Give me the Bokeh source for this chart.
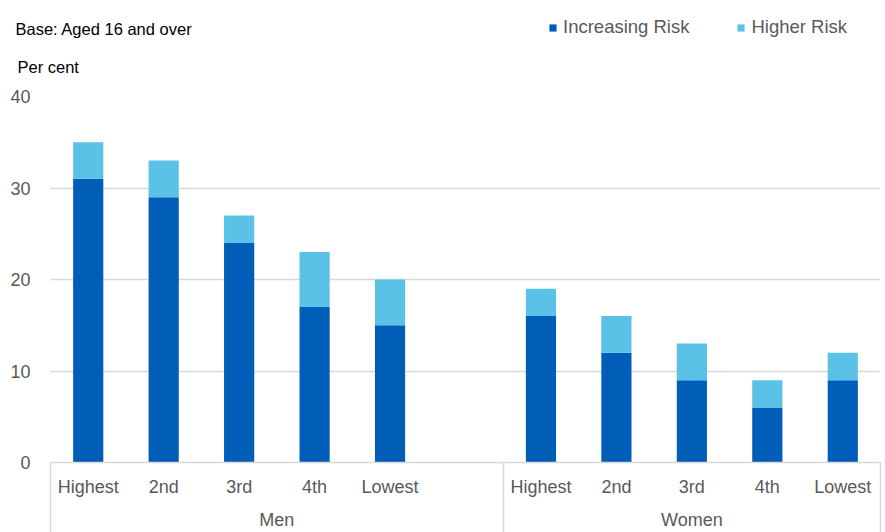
from bokeh.plotting import figure
from bokeh.layouts import column
from bokeh.models import (FixedTicker, LinearAxis, Range1d, ColumnDataSource,
                          Legend, LegendItem, Label)
from bokeh.embed import file_html
from bokeh.resources import INLINE

# ---- data ----
groups = ["Men", "Women"]
quintiles = ["Highest", "2nd", "3rd", "4th", "Lowest"]
men_increasing = [31, 29, 24, 17, 15]
men_higher = [4, 4, 3, 6, 5]
women_increasing = [16, 12, 9, 6, 9]
women_higher = [3, 4, 4, 3, 3]
series_names = ["Increasing Risk", "Higher Risk"]
y_ticks = [0, 10, 20, 30, 40]
base_text = "Base: Aged 16 and over"
unit_text = "Per cent"

DARK = "#005EB8"
LIGHT = "#5BC2E7"
GRID = "#d9d9d9"
TXT = "#595959"
FONT = "Liberation Sans"
colors = [DARK, LIGHT]

# positions: 6 slots per group (last one empty in first group)
slot = 6
xs, inc, hig, labels = [], [], [], {}
for g, (ivals, hvals) in enumerate([(men_increasing, men_higher),
                                     (women_increasing, women_higher)]):
    for i, q in enumerate(quintiles):
        x = g * slot + i
        xs.append(x)
        inc.append(ivals[i])
        hig.append(hvals[i])
        labels[x] = q

source = ColumnDataSource(dict(x=xs, increasing=inc, higher=hig))

n_slots = slot + len(quintiles)
x_start, x_end = -0.5, n_slots - 0.5
separators = [x_start, slot - 0.5, x_end]
group_centers = [(x_start + slot - 0.5) / 2, (slot - 0.5 + x_end) / 2]

# ---------------- header (notes + legend) ----------------
HEAD_H = 80
head = figure(width=885, height=HEAD_H, output_backend="svg",
              toolbar_location=None, x_axis_location=None,
              y_axis_location=None, min_border=0, title_location=None,
              x_range=Range1d(0, 1), y_range=Range1d(0, 1))
head.frame_align = False
head.outline_line_color = None
head.grid.visible = False
# swatch renderers for the legend (zero-height, nothing visible in the frame)
head_r = [head.vbar(x=[0], top=[0], width=0, color=c, line_color=None)
          for c in colors]
lg = Legend(items=[LegendItem(label=n, renderers=[r])
                   for n, r in zip(series_names, head_r)])
lg.orientation = "horizontal"
lg.location = (548, HEAD_H - 38)
lg.border_line_color = None
lg.background_fill_alpha = 0
lg.padding = 0
lg.margin = 0
lg.spacing = 47
lg.glyph_width = 9
lg.glyph_height = 9
lg.label_standoff = 6
lg.label_text_font = FONT
lg.label_text_font_size = "18.5px"
lg.label_text_color = TXT
head.add_layout(lg)
head.add_layout(Label(x=15, y=HEAD_H - 28, x_units="screen", y_units="screen",
                      text=base_text, text_font=FONT, text_font_size="16.5px",
                      text_color="black", text_baseline="middle"))
head.add_layout(Label(x=17, y=HEAD_H - 66, x_units="screen", y_units="screen",
                      text=unit_text, text_font=FONT, text_font_size="16.5px",
                      text_color="black", text_baseline="middle"))

# ---------------- main chart ----------------
p = figure(width=885, height=532 - HEAD_H, output_backend="svg",
           toolbar_location=None,
           x_range=Range1d(x_start, x_end), y_range=Range1d(0, 40),
           min_border_left=50, min_border_right=5, min_border_top=96 - HEAD_H,
           min_border_bottom=68, title_location=None)
p.frame_align = False
p.outline_line_color = None
p.background_fill_color = "white"

p.vbar_stack(["increasing", "higher"], x="x", width=0.4,
             color=colors, line_color=None, source=source)

# y axis
p.yaxis.ticker = FixedTicker(ticks=y_ticks)
p.yaxis.axis_line_color = None
p.yaxis.major_tick_line_color = None
p.yaxis.minor_tick_line_color = None
p.yaxis.major_label_standoff = 14
p.yaxis.major_label_text_font = FONT
p.yaxis.major_label_text_font_size = "18px"
p.yaxis.major_label_text_color = TXT

p.ygrid.ticker = FixedTicker(ticks=y_ticks)
p.ygrid.grid_line_color = GRID
p.ygrid.grid_line_width = 1.5
p.xgrid.visible = False

# x axis level 1 (quintiles); long minor ticks act as group separators
SEP_LEN = 70
xa = p.xaxis[0]
xa.ticker = FixedTicker(ticks=xs, minor_ticks=separators)
xa.major_label_overrides = labels
xa.major_tick_out = 0
xa.major_tick_in = 0
xa.minor_tick_in = 0
xa.minor_tick_out = SEP_LEN
xa.minor_tick_line_color = GRID
xa.minor_tick_line_width = 1.5
xa.axis_line_color = GRID
xa.axis_line_width = 1.5
xa.major_label_standoff = 14 - SEP_LEN
xa.major_label_text_font = FONT
xa.major_label_text_font_size = "18px"
xa.major_label_text_color = TXT

# x axis level 2 (groups)
xa2 = LinearAxis(ticker=FixedTicker(ticks=group_centers),
                 major_label_overrides={c: g for c, g in zip(group_centers, groups)})
xa2.axis_line_color = None
xa2.major_tick_line_color = None
xa2.minor_tick_line_color = None
xa2.major_tick_out = 0
xa2.major_tick_in = 0
xa2.minor_tick_out = 0
xa2.minor_tick_in = 0
xa2.major_label_standoff = 10
xa2.major_label_text_font = FONT
xa2.major_label_text_font_size = "18px"
xa2.major_label_text_color = TXT
p.add_layout(xa2, "below")

layout = column(head, p, spacing=0)
open("out.html", "w").write(file_html(layout, INLINE))
